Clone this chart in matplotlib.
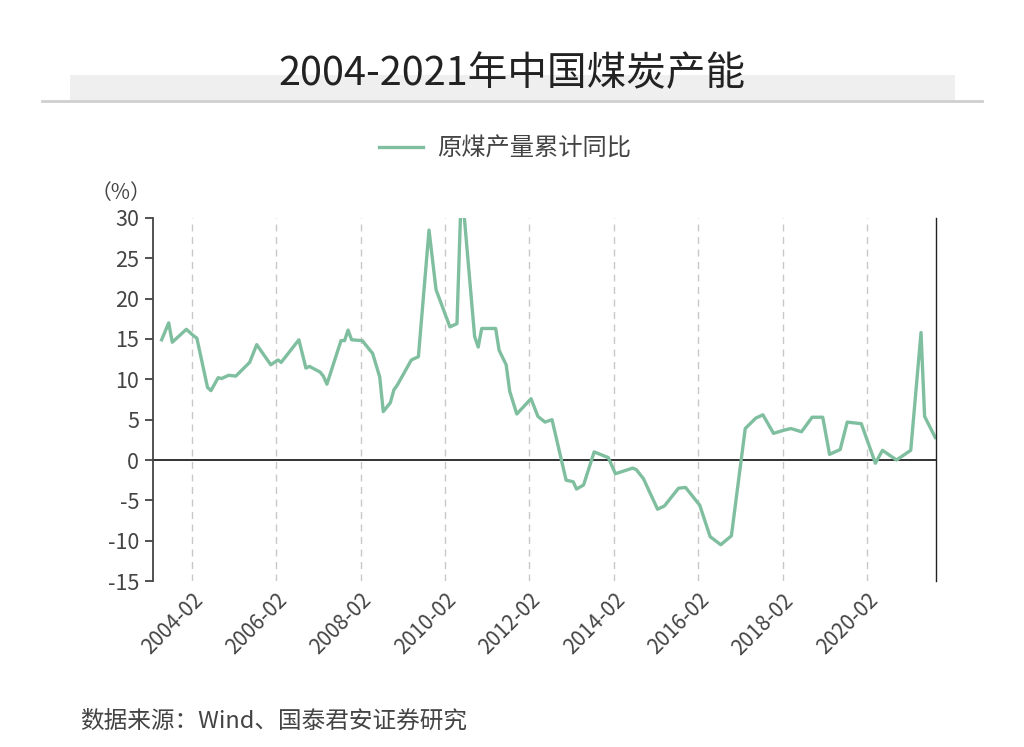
import numpy as np
import pandas as pd
import matplotlib
matplotlib.use("Agg")
import matplotlib.pyplot as plt
import matplotlib.dates as mdates
from matplotlib.lines import Line2D

plt.rcParams['font.family'] = ['Noto Sans CJK SC', 'DejaVu Sans']
plt.rcParams['axes.unicode_minus'] = False

# 原煤产量累计同比 (%)，读自原图
dates = [
    "2003-05", "2003-07", "2003-08", "2003-12", "2004-02", "2004-03", "2004-06",
    "2004-07", "2004-09", "2004-10", "2004-12", "2005-02", "2005-06", "2005-08",
    "2005-12", "2006-02", "2006-03", "2006-08", "2006-10", "2006-11", "2007-02",
    "2007-03", "2007-04", "2007-08", "2007-09", "2007-10", "2007-11", "2008-02",
    "2008-05", "2008-07", "2008-08", "2008-10", "2008-11", "2008-12", "2009-04",
    "2009-06", "2009-09", "2009-11", "2010-03", "2010-05", "2010-06", "2010-07",
    "2010-10", "2010-11", "2010-12", "2011-04", "2011-05", "2011-07", "2011-08",
    "2011-10", "2012-02", "2012-04", "2012-06", "2012-08", "2012-12", "2013-02",
    "2013-03", "2013-05", "2013-08", "2013-12", "2014-02", "2014-07", "2014-08",
    "2014-10", "2015-02", "2015-04", "2015-08", "2015-10", "2016-02", "2016-05",
    "2016-08", "2016-11", "2017-03", "2017-06", "2017-08", "2017-11", "2018-02",
    "2018-04", "2018-07", "2018-10", "2019-01", "2019-03", "2019-06", "2019-08",
    "2019-12", "2020-04", "2020-06", "2020-10", "2021-02", "2021-05", "2021-06",
    "2021-09",
]
values = [
    14.9, 17.0, 14.6, 16.2, 15.4, 15.1, 9.0,
    8.6, 10.2, 10.1, 10.5, 10.4, 12.1, 14.3,
    11.8, 12.4, 12.1, 14.9, 11.4, 11.6, 10.9,
    10.4, 9.4, 14.8, 14.8, 16.1, 14.9, 14.8,
    13.2, 10.3, 6.0, 7.1, 8.7, 9.3, 12.4,
    12.8, 28.5, 21.1, 16.5, 16.9, 30.5, 30.5,
    15.3, 14.0, 16.3, 16.3, 13.6, 11.8, 8.5,
    5.7, 7.6, 5.4, 4.7, 5.0, -2.5, -2.7,
    -3.6, -3.1, 1.0, 0.3, -1.7, -1.0, -1.2,
    -2.3, -6.1, -5.7, -3.5, -3.4, -5.6, -9.5,
    -10.5, -9.4, 3.9, 5.2, 5.6, 3.3, 3.7,
    3.9, 3.5, 5.3, 5.3, 0.7, 1.3, 4.7,
    4.5, -0.4, 1.2, 0.0, 1.2, 15.8, 5.4,
    2.8,
]
tick_dates = ["2004-02", "2006-02", "2008-02", "2010-02", "2012-02",
              "2014-02", "2016-02", "2018-02", "2020-02"]
y_ticks = [30, 25, 20, 15, 10, 5, 0, -5, -10, -15]

title = "2004-2021年中国煤炭产能"
series_name = "原煤产量累计同比"
source = "数据来源：Wind、国泰君安证券研究"

line_color = "#7fbf9f"
text_color = "#444444"

x = pd.to_datetime(dates) + pd.Timedelta(days=14)
ticks = pd.to_datetime(tick_dates)

fig = plt.figure(figsize=(10.24, 7.47), dpi=100)
fig.patch.set_facecolor("white")

# 标题及灰色底条
fig.patches.append(plt.Rectangle((0.068, 0.866), 0.865, 0.034, transform=fig.transFigure,
                                 facecolor="#efefef", edgecolor="none", zorder=0))
fig.lines.append(Line2D([0.041, 0.959], [0.865, 0.865], transform=fig.transFigure,
                        color="#cfcfcf", linewidth=2))
fig.text(0.5, 0.9, title, ha="center", va="center", fontsize=28.5, color="#222222")

ax = fig.add_axes([0.1494, 0.2222, 0.7647, 0.486])
ax.plot(x, values, color=line_color, linewidth=2.4, label=series_name, clip_on=True)

ax.set_ylim(-15, 30)
ax.set_yticks(y_ticks)
ax.set_xlim(pd.Timestamp("2003-03-01"), pd.Timestamp("2021-09-22"))
ax.set_xticks(ticks)
ax.xaxis.set_major_formatter(mdates.DateFormatter("%Y-%m"))

for t in ticks:
    ax.axvline(t, color="#c8c8c8", linestyle=(0, (5, 4)), linewidth=1, zorder=0)
ax.axhline(0, color="#222222", linewidth=1.3, zorder=1)

ax.spines["top"].set_visible(False)
ax.spines["bottom"].set_visible(False)
ax.spines["left"].set_color("#444444")
ax.spines["left"].set_linewidth(1.3)
ax.spines["right"].set_color("#222222")
ax.spines["right"].set_linewidth(1.0)

ax.tick_params(axis="y", direction="out", length=6, width=1.3, color="#444444",
               labelsize=15.5, labelcolor=text_color, pad=4)
ax.tick_params(axis="x", length=0, labelsize=15, labelcolor=text_color, pad=6)
for lab in ax.get_xticklabels():
    lab.set_rotation(45)
    lab.set_ha("right")
    lab.set_rotation_mode("anchor")

ax.text(-0.041, 1.068, "（%）", transform=ax.transAxes, fontsize=15,
        color=text_color, ha="center", va="center")

leg = ax.legend(loc="lower center", bbox_to_anchor=(0.45, 1.095), frameon=False,
                fontsize=17.5, handlelength=1.8, handletextpad=0.6)
for t in leg.get_texts():
    t.set_color(text_color)

fig.text(0.078, 0.035, source, fontsize=17, color=text_color, ha="left", va="center")

fig.savefig("out.png", dpi=100, facecolor="white")
